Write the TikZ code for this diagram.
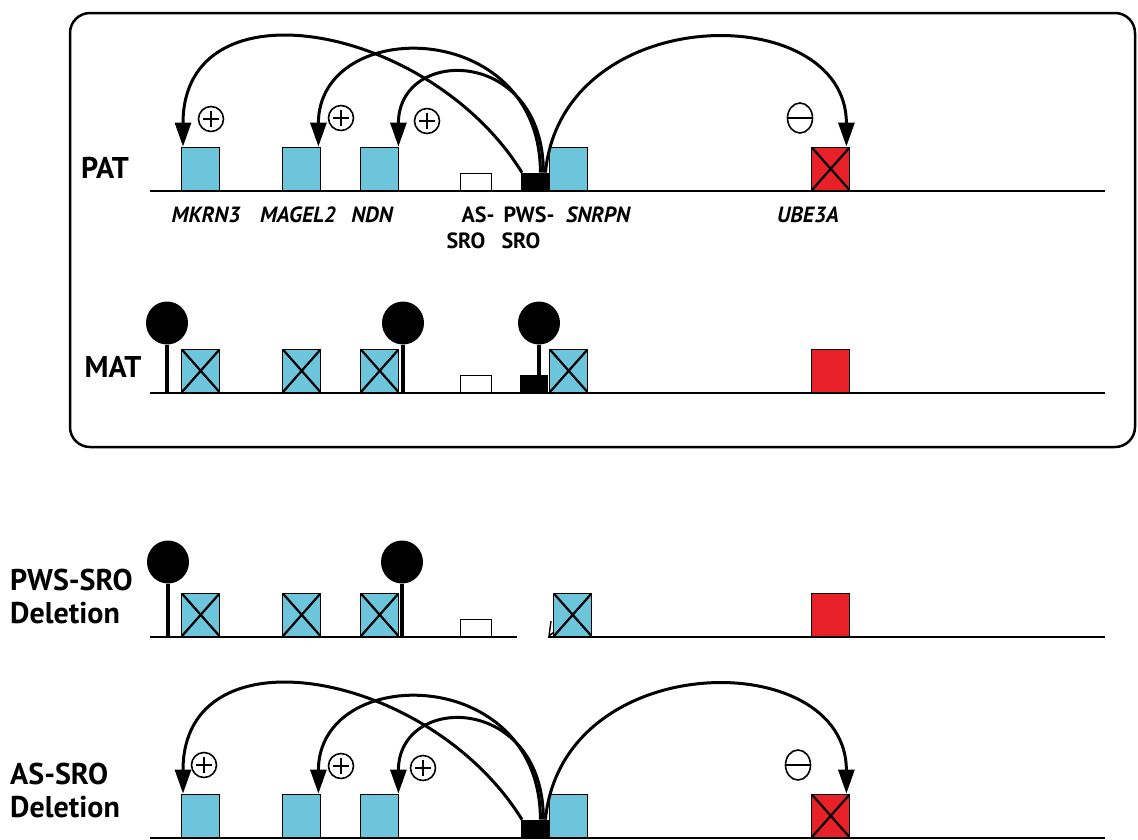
\documentclass[tikz,border=0pt]{standalone}
\usepackage{fontspec}
\setmainfont{PT Sans}
\usetikzlibrary{arrows.meta,shapes.geometric}
\definecolor{genecyan}{RGB}{108,197,218}
\definecolor{genered}{RGB}{232,32,40}
\tikzset{
  gene/.style={draw,line width=1.4pt,fill=genecyan,minimum width=38pt,minimum height=43pt,inner sep=0pt,anchor=south west},
  off/.style={path picture={\draw[line width=2.2pt] (path picture bounding box.south west)--(path picture bounding box.north east) (path picture bounding box.north west)--(path picture bounding box.south east);}},
  asbox/.style={draw,line width=1.4pt,fill=white,minimum width=31pt,minimum height=17pt,inner sep=0pt,anchor=south west},
  pwsbox/.style={fill=black,minimum width=28pt,minimum height=18pt,inner sep=0pt,anchor=south west},
  meth/.style={ellipse,fill=black,minimum width=42pt,minimum height=43pt,inner sep=0pt},
  stem/.style={line width=3.2pt},
  dna/.style={line width=1.6pt},
  act/.style={line width=3pt,-{Triangle[length=24pt,width=16pt]}},
  plus/.style={circle,draw,line width=1.6pt,minimum size=25pt,inner sep=0pt,
    path picture={\draw[line width=1.8pt] ([xshift=-8pt]path picture bounding box.center)--([xshift=8pt]path picture bounding box.center) ([yshift=-8pt]path picture bounding box.center)--([yshift=8pt]path picture bounding box.center);}},
  minus/.style={ellipse,draw,line width=1.6pt,minimum width=25pt,minimum height=30pt,inner sep=0pt,
    path picture={\draw[line width=1.8pt] (path picture bounding box.west)--(path picture bounding box.east);}},
  rowlab/.style={font=\bfseries\fontsize{30}{30}\selectfont,inner sep=0pt,anchor=base},
  genelab/.style={font=\bfseries\itshape\fontsize{22}{22}\selectfont,inner sep=0pt,anchor=base},
  srolab/.style={font=\bfseries\fontsize{22}{22}\selectfont,inner sep=0pt,anchor=base}
}
\begin{document}
\begin{tikzpicture}[x=1pt,y=-1pt]
\useasboundingbox (0,0) rectangle (1138,839);
\draw[line width=2.5pt,rounded corners=20pt] (70,13) rectangle (1135,447);

% paternal
\node[rowlab] (pat) at (105,178) {PAT};
\draw[dna] (150,191) -- (1105,191);
\node[gene] (pat-mkrn3) at (181,191) {};
\node[gene] (pat-magel2) at (282,191) {};
\node[gene] (pat-ndn) at (360,191) {};
\node[asbox] (pat-as) at (460,191) {};
\node[pwsbox] (pat-pws) at (521,191) {};
\node[gene] (pat-snrpn) at (549,191) {};
\node[gene,fill=genered,off] (pat-ube3a) at (811,191) {};

\node[genelab] (l-mkrn3) at (206,222) {MKRN3};
\node[genelab] (l-magel2) at (298,222) {MAGEL2};
\node[genelab] (l-ndn) at (372,222) {NDN};
\node[srolab] (l-as) at (478,222) {AS-};
\node[srolab] (l-pws) at (529,222) {PWS-};
\node[genelab] (l-snrpn) at (598,222) {SNRPN};
\node[genelab] (l-ube3a) at (808,222) {UBE3A};
\node[srolab] (l-as2) at (466,248) {SRO};
\node[srolab] (l-pws2) at (521,248) {SRO};

\draw[act] ([xshift=1pt]pat-pws.north west) .. controls +(-92,-149) and +(0,-168) .. ([xshift=2pt]pat-mkrn3.north west);
\draw[act] ([xshift=-9pt]pat-pws.north east) .. controls +(0,-156) and +(0,-131) .. ([xshift=-3pt]pat-magel2.north east);
\draw[act] ([xshift=-6pt]pat-pws.north east) .. controls +(0,-126) and +(0,-101) .. ([xshift=-1pt]pat-ndn.north east);
\draw[act] ([xshift=-4pt]pat-pws.north east) .. controls +(17,-173) and +(0,-148) .. ([xshift=-4pt]pat-ube3a.north east);

\node[plus] (pat-p1) at (211,119) {};
\node[plus] (pat-p2) at (341,118) {};
\node[plus] (pat-p3) at (427,121) {};
\node[minus] (pat-m1) at (800,118) {};

% maternal
\node[rowlab] (mat) at (113,377) {MAT};
\draw[dna] (150,393) -- (1105,393);
\coordinate (matline) at (150,393);
\node[gene,off] (mat-mkrn3) at (181,393) {};
\node[gene,off] (mat-magel2) at (282,393) {};
\node[gene,off] (mat-ndn) at (360,393) {};
\node[asbox] (mat-as) at (460,393) {};
\node[pwsbox] (mat-pws) at (520,393) {};
\node[gene,off] (mat-snrpn) at (549,393) {};
\node[gene,fill=genered] (mat-ube3a) at (811,393) {};
\node[meth] (mat-c1) at (167,323) {};
\node[meth] (mat-c2) at (403,323) {};
\node[meth] (mat-c3) at (539,323) {};
\draw[stem] (mat-c1.south) -- (mat-c1.south |- matline);
\draw[stem] (mat-c2.south) -- (mat-c2.south |- matline);
\draw[stem] (mat-c3.south) -- (mat-c3.south |- mat-pws.north);

% PWS-SRO deletion
\node[rowlab,anchor=base west] (del1a) at (10,590) {PWS-SRO};
\node[rowlab,anchor=base west] (del1b) at (10,623) {Deletion};
\draw[dna] (150,637) -- (517,637);
\draw[dna] (548,637) -- (1105,637);
\coordinate (delline) at (150,637);
\node[gene,off] (del-mkrn3) at (181,637) {};
\node[gene,off] (del-magel2) at (282,637) {};
\node[gene,off] (del-ndn) at (360,637) {};
\node[asbox] (del-as) at (460,637) {};
\node[gene,off] (del-snrpn) at (553,637) {};
\node[gene,fill=genered] (del-ube3a) at (811,637) {};
\node[meth] (del-c1) at (168,562) {};
\node[meth] (del-c2) at (402,562) {};
\draw[stem] (del-c1.south) -- (del-c1.south |- delline);
\draw[stem] (del-c2.south) -- (del-c2.south |- delline);
\draw[line width=1.4pt] (551,621) -- (549,636) -- (554,632);

% AS-SRO deletion
\node[rowlab,anchor=base west] (del2a) at (10,784) {AS-SRO};
\node[rowlab,anchor=base west] (del2b) at (10,817) {Deletion};
\draw[dna] (150,838) -- (1105,838);
\node[gene] (as-mkrn3) at (181,838) {};
\node[gene] (as-magel2) at (282,838) {};
\node[gene] (as-ndn) at (360,838) {};
\node[pwsbox] (as-pws) at (521,838) {};
\node[gene] (as-snrpn) at (549,838) {};
\node[gene,fill=genered,off] (as-ube3a) at (811,838) {};

\draw[act] ([xshift=1pt]as-pws.north west) .. controls +(-92,-149) and +(0,-168) .. ([xshift=2pt]as-mkrn3.north west);
\draw[act] ([xshift=-9pt]as-pws.north east) .. controls +(0,-156) and +(0,-131) .. ([xshift=-3pt]as-magel2.north east);
\draw[act] ([xshift=-6pt]as-pws.north east) .. controls +(0,-126) and +(0,-101) .. ([xshift=-1pt]as-ndn.north east);
\draw[act] ([xshift=-4pt]as-pws.north east) .. controls +(17,-173) and +(0,-148) .. ([xshift=-4pt]as-ube3a.north east);

\node[plus] (as-p1) at (204,765) {};
\node[plus] (as-p2) at (341,766) {};
\node[plus] (as-p3) at (423,768) {};
\node[minus] (as-m1) at (798,765) {};
\end{tikzpicture}
\end{document}
